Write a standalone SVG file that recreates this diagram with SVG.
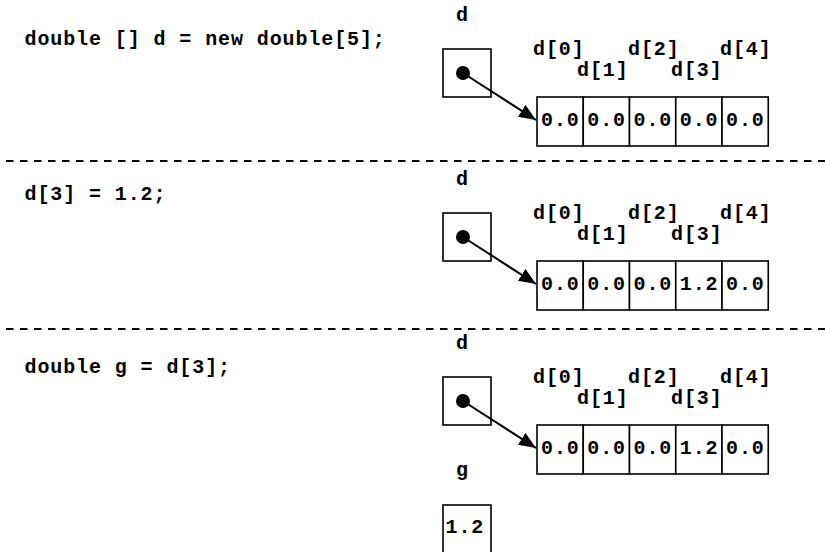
<svg xmlns="http://www.w3.org/2000/svg" width="825" height="552" viewBox="0 0 825 552">
<style>
text{font-family:"Liberation Mono","Courier New",monospace;font-weight:bold;font-size:20px;letter-spacing:0.9px;fill:#000}
.box{fill:#fff;stroke:#000;stroke-width:1.6}
.dash{stroke:#000;stroke-width:2;stroke-dasharray:7.5 6.5}
.ptr{stroke:#000;stroke-width:2;fill:none}
</style>
<defs>
<marker id="ah" markerUnits="userSpaceOnUse" markerWidth="18" markerHeight="16" refX="17" refY="7" orient="auto">
<path d="M0,0 L17,7 L0,14 Z" fill="#000"/>
</marker>
<g id="arr">
<rect class="box" x="537" y="0" width="46.25" height="49"/>
<rect class="box" x="583.25" y="0" width="46.25" height="49"/>
<rect class="box" x="629.5" y="0" width="46.25" height="49"/>
<rect class="box" x="675.75" y="0" width="46.25" height="49"/>
<rect class="box" x="722" y="0" width="46.25" height="49"/>
</g>
</defs>
<rect width="825" height="552" fill="#fff"/>
<g id="separators">
<line class="dash" x1="6" y1="161" x2="825" y2="161"/>
<line class="dash" x1="6" y1="329" x2="825" y2="329"/>
</g>
<g id="code">
<text x="24.5" y="45">double [] d = new double[5];</text>
<text x="24.5" y="200">d[3] = 1.2;</text>
<text x="24.5" y="373">double g = d[3];</text>
</g>
<g id="panel1">
<g id="d-var-1">
<text x="456" y="21">d</text>
<rect class="box" x="443" y="49" width="48" height="48"/>
<circle cx="463" cy="73" r="7"/>
</g>
<g id="d-array-1">
<text x="533" y="55">d[0]</text>
<text x="577" y="76">d[1]</text>
<text x="628" y="55">d[2]</text>
<text x="671" y="76">d[3]</text>
<text x="720" y="55">d[4]</text>
<use href="#arr" y="97"/>
<text x="541" y="126">0.0</text>
<text x="587.25" y="126">0.0</text>
<text x="633.5" y="126">0.0</text>
<text x="679.75" y="126">0.0</text>
<text x="726" y="126">0.0</text>
</g>
</g>
<g id="panel2">
<g id="d-var-2">
<text x="456" y="185">d</text>
<rect class="box" x="443" y="213" width="48" height="48"/>
<circle cx="463" cy="237" r="7"/>
</g>
<g id="d-array-2">
<text x="533" y="219">d[0]</text>
<text x="577" y="240">d[1]</text>
<text x="628" y="219">d[2]</text>
<text x="671" y="240">d[3]</text>
<text x="720" y="219">d[4]</text>
<use href="#arr" y="261"/>
<text x="541" y="290">0.0</text>
<text x="587.25" y="290">0.0</text>
<text x="633.5" y="290">0.0</text>
<text x="679.75" y="290">1.2</text>
<text x="726" y="290">0.0</text>
</g>
</g>
<g id="panel3">
<g id="d-var-3">
<text x="456" y="349">d</text>
<rect class="box" x="443" y="377" width="48" height="48"/>
<circle cx="463" cy="401" r="7"/>
</g>
<g id="d-array-3">
<text x="533" y="383">d[0]</text>
<text x="577" y="404">d[1]</text>
<text x="628" y="383">d[2]</text>
<text x="671" y="404">d[3]</text>
<text x="720" y="383">d[4]</text>
<use href="#arr" y="425"/>
<text x="541" y="454">0.0</text>
<text x="587.25" y="454">0.0</text>
<text x="633.5" y="454">0.0</text>
<text x="679.75" y="454">1.2</text>
<text x="726" y="454">0.0</text>
</g>
<g id="g-var">
<text x="456" y="476">g</text>
<rect class="box" x="443" y="505" width="48" height="50"/>
<text x="445.5" y="533">1.2</text>
</g>
</g>
<g id="connectors">
<line class="ptr" x1="463" y1="73" x2="536" y2="120" marker-end="url(#ah)"/>
<line class="ptr" x1="463" y1="237" x2="536" y2="284" marker-end="url(#ah)"/>
<line class="ptr" x1="463" y1="401" x2="536" y2="448" marker-end="url(#ah)"/>
</g>
</svg>
